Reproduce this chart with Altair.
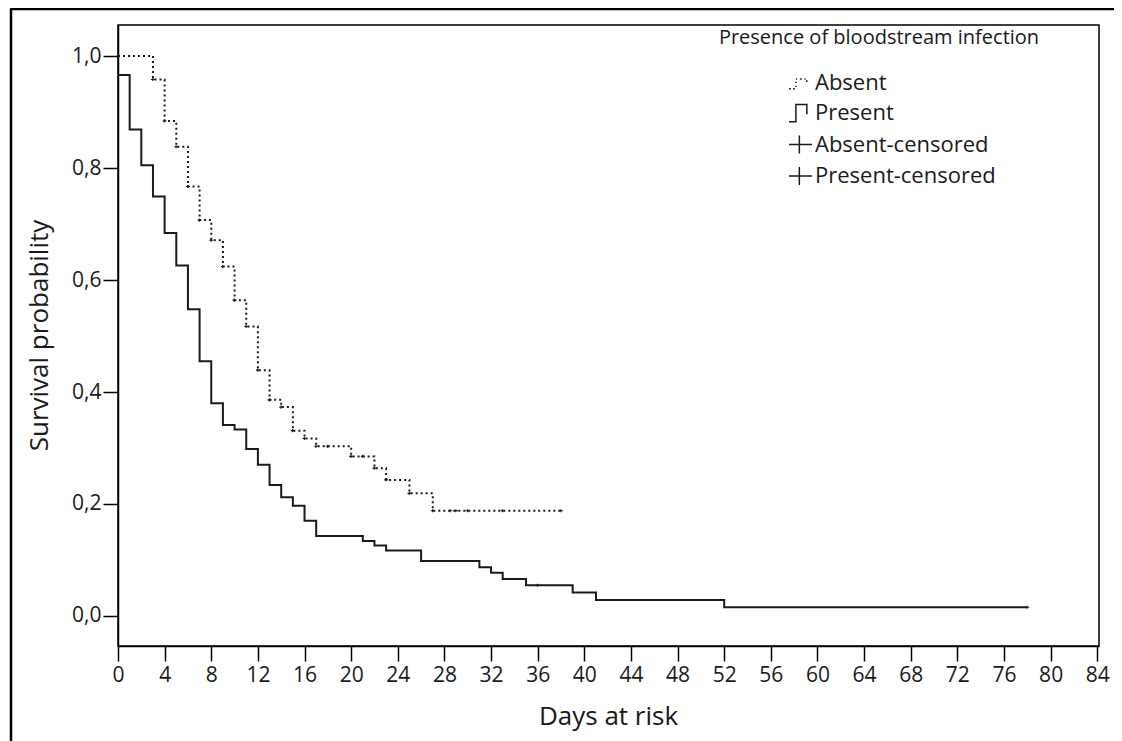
import altair as alt
import pandas as pd

# ---- data ----
absent_days = [0, 3, 4, 5, 6, 7, 8, 9, 10, 11, 12, 13, 14, 15, 16, 17, 20, 22, 23, 25, 27]
absent_surv = [1.0, 0.958, 0.884, 0.838, 0.767, 0.707, 0.671, 0.624, 0.564, 0.517, 0.439,
               0.386, 0.373, 0.331, 0.317, 0.303, 0.285, 0.264, 0.243, 0.219, 0.188]
absent_end = 38

present_days = [0, 1, 2, 3, 4, 5, 6, 7, 8, 9, 10, 11, 12, 13, 14, 15, 16, 17, 21, 22, 23,
                26, 31, 32, 33, 35, 39, 41, 52]
present_surv = [0.966, 0.869, 0.805, 0.749, 0.684, 0.626, 0.548, 0.455, 0.380, 0.341, 0.333,
                0.298, 0.270, 0.234, 0.212, 0.197, 0.170, 0.143, 0.134, 0.126, 0.117,
                0.098, 0.087, 0.077, 0.066, 0.055, 0.042, 0.0286, 0.0155]
present_end = 78

absent_censor_days = [3, 4, 5, 6, 7, 8, 9, 10, 11, 12, 13, 14, 15, 16, 17, 18, 20, 21, 22,
                      23, 25, 27, 28.5, 29, 30, 33, 38]
present_censor_days = [36, 78]

x_ticks = list(range(0, 85, 4))
y_ticks = [0.0, 0.2, 0.4, 0.6, 0.8, 1.0]
legend_labels = ["Absent", "Present", "Absent-censored", "Present-censored"]
legend_title = "Presence of bloodstream infection"

FONT = "Open Sans"
INK = "#1a1a1a"

# ---- tables built from the arrays ----
def step_rows(days, surv, end, group):
    rows = [{"day": d, "surv": s, "group": group} for d, s in zip(days, surv)]
    rows.append({"day": end, "surv": surv[-1], "group": group})
    return rows

def value_at(days, surv, t):
    v = surv[0]
    for d, s in zip(days, surv):
        if d <= t:
            v = s
    return v

lines_df = pd.DataFrame(step_rows(absent_days, absent_surv, absent_end, "Absent")
                        + step_rows(present_days, present_surv, present_end, "Present"))

cens_rows = [{"day": t, "surv": value_at(absent_days, absent_surv, t), "key": "Absent-censored"}
             for t in absent_censor_days]
cens_rows += [{"day": t, "surv": value_at(present_days, present_surv, t), "key": "Present-censored"}
              for t in present_censor_days]
cens_df = pd.DataFrame(cens_rows)

# legend glyphs (unit-square SVG paths)
dotted_step = ("M-1,0.55L-0.85,0.55 M-0.65,0.55L-0.5,0.55 M-0.4,0.4L-0.4,0.28 "
               "M-0.4,0.05L-0.4,-0.07 M-0.4,-0.3L-0.3,-0.3 M-0.05,-0.3L0.1,-0.3 "
               "M0.35,-0.3L0.45,-0.3 M0.55,-0.2L0.55,-0.05")
solid_step = "M-1,0.75L-0.4,0.75L-0.4,-0.75L0.55,-0.75L0.55,0.1"
plus = "M-1,0L1,0M-0.1,-0.78L-0.1,0.78"
shape_range = [dotted_step, solid_step, plus, plus]

x_enc = alt.X("day:Q", scale=alt.Scale(domain=[0, 84.15], nice=False, zero=False),
              axis=alt.Axis(values=x_ticks, title="Days at risk", labelPadding=3,
                            titleX=490, titleY=70, titleAlign="center",
                            titleBaseline="middle", labelFlush=False))
y_enc = alt.Y("surv:Q", scale=alt.Scale(domain=[-0.0536, 1.0554], nice=False, zero=False),
              axis=alt.Axis(values=y_ticks, title="Survival probability",
                            labelExpr="replace(format(datum.value, '.1f'), '.', ',')",
                            labelPadding=2, titleAngle=270, titleX=-79, titleY=310,
                            titleAlign="center", titleBaseline="middle"))

lines = alt.Chart(lines_df).mark_line(interpolate="step-after", strokeWidth=2, color=INK).encode(
    x=x_enc, y=y_enc,
    strokeDash=alt.StrokeDash("group:N", scale=alt.Scale(domain=["Absent", "Present"],
                                                         range=[[2, 3], [1, 0]]), legend=None),
    detail="group:N",
)

censors = alt.Chart(cens_df).mark_point(filled=False, size=16, strokeWidth=1.1, color=INK,
                                        opacity=1).encode(
    x="day:Q", y="surv:Q",
    shape=alt.Shape("key:N", scale=alt.Scale(domain=legend_labels, range=shape_range),
                    legend=alt.Legend(title=None, orient="none", legendX=670, legendY=45,
                                      symbolSize=529, symbolStrokeWidth=1.5,
                                      symbolStrokeColor=INK, symbolFillColor="transparent",
                                      labelFontSize=22, labelFont=FONT, labelColor=INK,
                                      labelLimit=0, labelOffset=2, rowPadding=6.5,
                                      symbolOpacity=1)),
)

one = pd.DataFrame({"k": [0]})
frame_left = alt.Chart(one).mark_rule(color="black", strokeWidth=2.5).encode(
    x=alt.value(-107), y=alt.value(-16), y2=alt.value(760))
frame_top = alt.Chart(one).mark_rule(color="black", strokeWidth=2.5).encode(
    x=alt.value(-108), x2=alt.value(1100), y=alt.value(-16))
leg_title = alt.Chart(one).mark_text(text=legend_title, font=FONT, fontSize=20, color=INK,
                                     align="center", baseline="middle").encode(
    x=alt.value(761), y=alt.value(13))

chart = alt.layer(lines, censors, frame_left, frame_top, leg_title).properties(
    width=981, height=621,
    background="white",
    autosize=alt.AutoSizeParams(type="none"),
    padding={"left": 110, "top": 17, "right": 15, "bottom": 95},
).configure_view(stroke="black", strokeWidth=1.5).configure_axis(
    grid=False, domainColor="black", domainWidth=1.5, tickColor="black", tickWidth=1.5,
    tickSize=15, labelFont=FONT, labelFontSize=21, labelColor=INK, titleFont=FONT,
    titleFontSize=26, titleFontWeight="normal", titleColor=INK,
)

chart.save("out.html", embed_options={"renderer": "svg", "actions": False})
